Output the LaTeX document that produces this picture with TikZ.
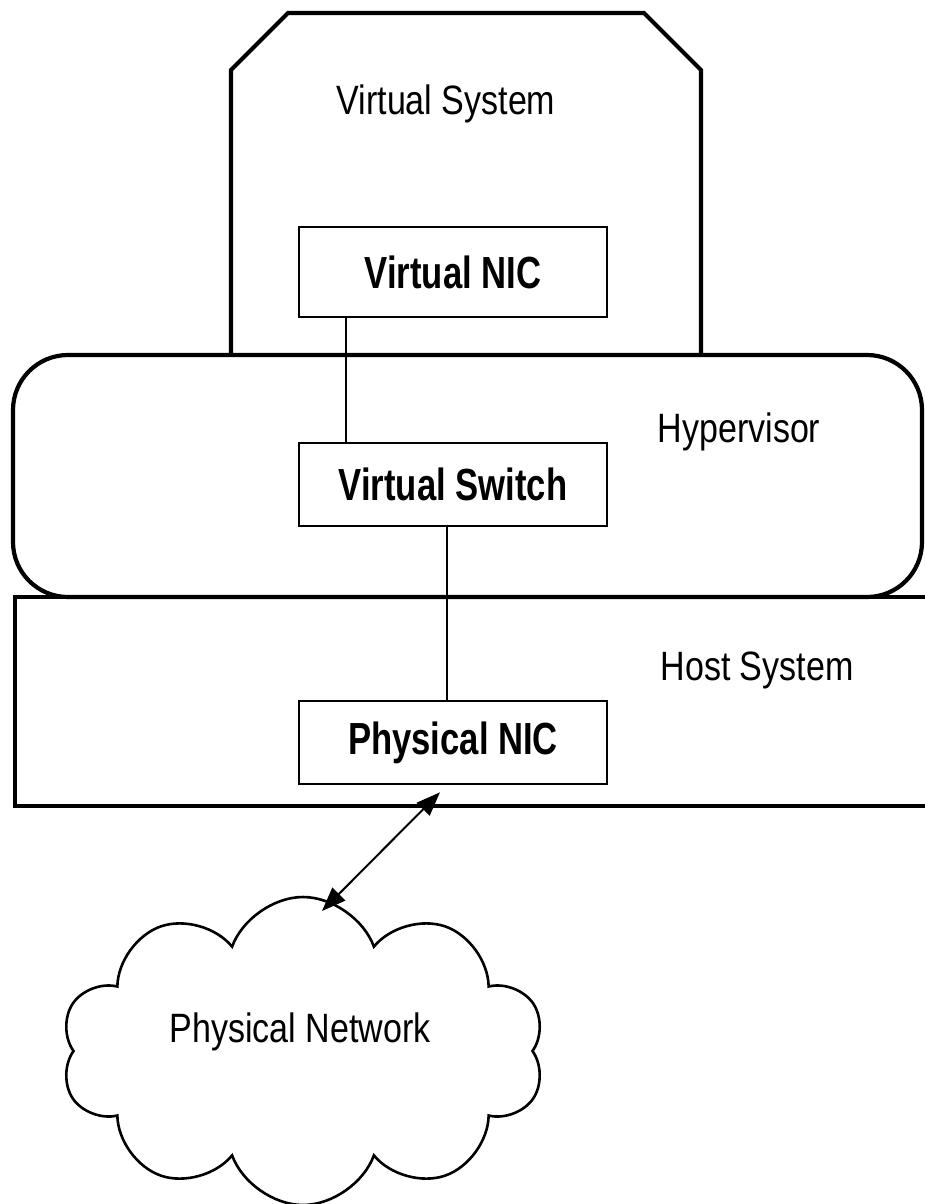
\documentclass[tikz,border=0pt]{standalone}
\usepackage{fontspec}
\setmainfont{Liberation Sans}[FakeStretch=0.83]
\newfontfamily\boxfont{Liberation Sans}[FakeStretch=0.77]
\usepackage{tikz}
\usetikzlibrary{shapes.symbols,arrows.meta}

\begin{document}
\begin{tikzpicture}[x=1pt,y=-1pt,
        layer/.style={line width=4.2pt},
        nicbox/.style={draw, line width=2.6pt, minimum width=308pt, minimum height=83pt, inner sep=0pt,
            font=\boxfont\bfseries\fontsize{45}{48}\selectfont},
        lbl/.style={anchor=base, inner sep=0pt, font=\fontsize{41}{45}\selectfont},
        link/.style={line width=2pt},
        tip/.tip={Triangle[length=24pt,width=18pt]}]
            \useasboundingbox (0,0) rectangle (925,1204);

            \draw[layer] (231,355) -- (231,70) -- (288,13) -- (644,13) -- (701,70) -- (701,355);
            \draw[layer, rounded corners=55pt] (13,355) rectangle (922,597);
            \draw[layer] (925,597) -- (15,597) -- (15,806) -- (925,806);

            \node[lbl] (vsyslabel) at (446,114) {Virtual System};
            \node[lbl] (hyplabel) at (739,442) {Hypervisor};
            \node[lbl] (hostlabel) at (757,680) {Host System};

            \node[nicbox, minimum height=90pt] (vnic) at (453,272) {Virtual NIC};
            \node[nicbox] (vswitch) at (453,484.5) {Virtual Switch};
            \node[nicbox] (pnic) at (453,742.5) {Physical NIC};

            \draw[link] ([xshift=-107pt]vnic.south) -- ([xshift=-107pt]vswitch.north);
            \draw[link] ([xshift=-6pt]vswitch.south) -- ([xshift=-6pt]pnic.north);

            \node[cloud, draw, line width=2.6pt, cloud puffs=10, cloud puff arc=140, aspect=1.6,
                minimum width=484pt, minimum height=308pt, inner sep=0pt] (net) at (303,1051) {};
            \node[lbl] (netlabel) at (300,1042) {Physical Network};

            \coordinate (nettop) at (322,911);
            \draw[link, tip-tip] (nettop) -- ([xshift=-13pt,yshift=-7pt]pnic.south);
         \end{tikzpicture}
\end{document}
